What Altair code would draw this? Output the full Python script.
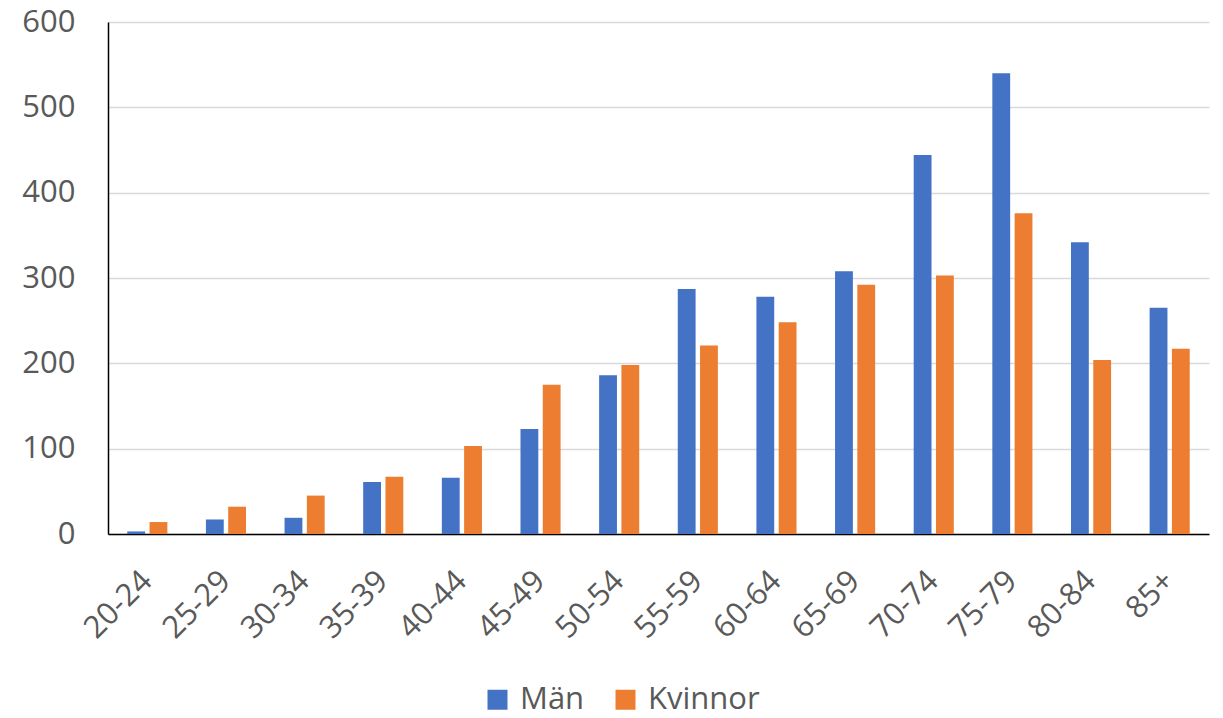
import altair as alt
import pandas as pd

age_groups = ["20-24", "25-29", "30-34", "35-39", "40-44", "45-49", "50-54",
              "55-59", "60-64", "65-69", "70-74", "75-79", "80-84", "85+"]
man = [3, 17, 19, 61, 66, 123, 186, 287, 278, 308, 444, 540, 342, 265]
kvinnor = [14, 32, 45, 67, 103, 175, 198, 221, 248, 292, 303, 376, 204, 217]
series = ["Män", "Kvinnor"]
colors = ["#4472C4", "#ED7D31"]
y_ticks = [0, 100, 200, 300, 400, 500, 600]

rows = []
for i, a in enumerate(age_groups):
    rows.append({"Ålder": a, "Kön": "Män", "Antal": man[i]})
    rows.append({"Ålder": a, "Kön": "Kvinnor", "Antal": kvinnor[i]})
df = pd.DataFrame(rows)

FONT = "Open Sans"
GREY = "#595959"

chart = alt.Chart(df).mark_bar().encode(
    x=alt.X("Ålder:N", sort=age_groups,
            scale=alt.Scale(paddingInner=0.49, paddingOuter=0.245),
            axis=alt.Axis(title=None, labelAngle=-45, labelFontSize=31,
                          labelFont=FONT, labelColor=GREY, ticks=False,
                          labelPadding=42, grid=False, domainColor="#000000",
                          domainWidth=1.5, labelAlign="right",
                          labelBaseline="middle")),
    xOffset=alt.XOffset("Kön:N", sort=series,
                        scale=alt.Scale(domain=series, paddingInner=0.2)),
    y=alt.Y("Antal:Q", scale=alt.Scale(domain=[0, 600], nice=False),
            axis=alt.Axis(title=None, values=y_ticks, labelFontSize=31,
                          labelFont=FONT, labelColor=GREY, ticks=False,
                          labelPadding=33, gridColor="#D9D9D9", gridWidth=1.5,
                          domainColor="#000000", domainWidth=1.5)),
    color=alt.Color("Kön:N", sort=series,
                    scale=alt.Scale(domain=series, range=colors),
                    legend=alt.Legend(title=None, orient="none", direction="horizontal",
                                      legendX=374, legendY=662, symbolType="square",
                                      symbolSize=400, symbolStrokeWidth=0,
                                      labelFontSize=31, labelFont=FONT,
                                      labelColor=GREY, labelOffset=7,
                                      columnPadding=25, padding=0)),
).properties(
    width=1101, height=512,
    autosize=alt.AutoSizeParams(type="none"),
    padding={"left": 100, "top": 14, "right": 5, "bottom": 184},
).configure_view(stroke=None)

chart.save("out.html", embed_options={"renderer": "svg", "actions": False})
